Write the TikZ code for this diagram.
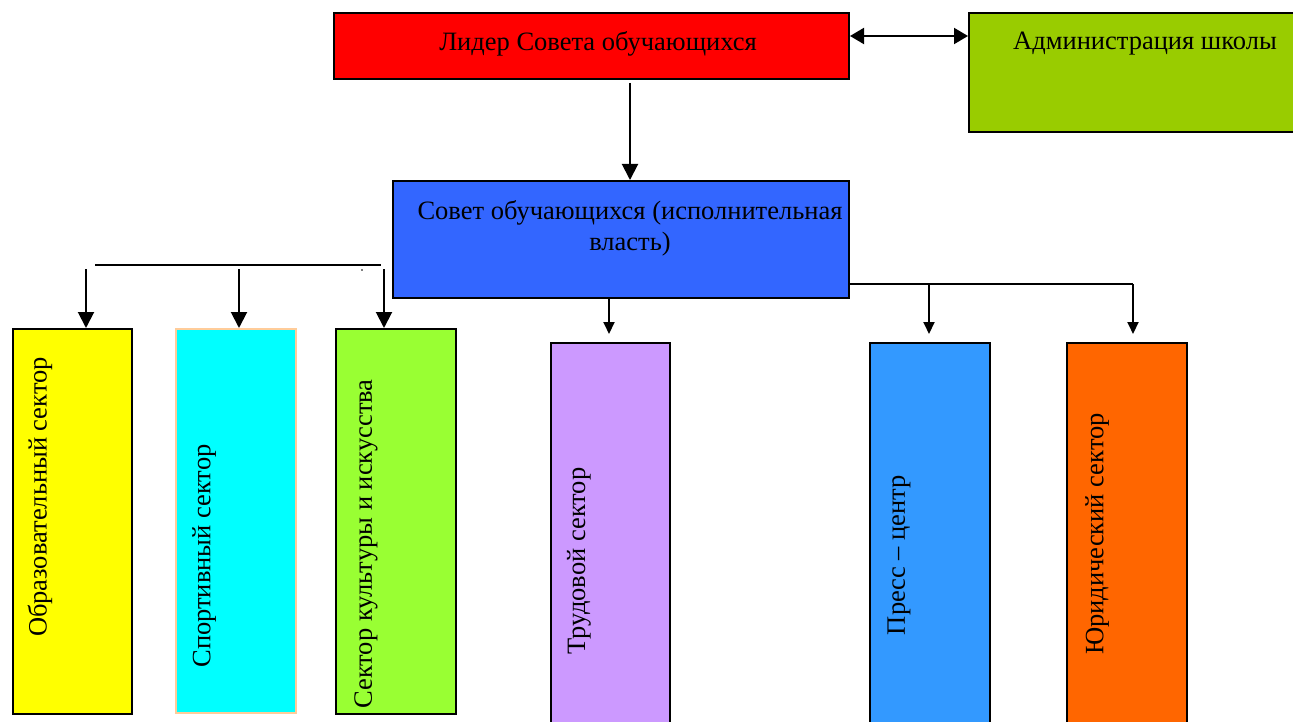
\documentclass[tikz,border=0pt]{standalone}
\usepackage{fontspec}
\setmainfont{Liberation Serif}
\usetikzlibrary{arrows.meta}
\definecolor{cred}{HTML}{FF0000}
\definecolor{cadmin}{HTML}{99CC00}
\definecolor{cblue}{HTML}{3366FF}
\definecolor{cyel}{HTML}{FFFF00}
\definecolor{ccyan}{HTML}{00FFFF}
\definecolor{cpeach}{HTML}{FFCC99}
\definecolor{clime}{HTML}{99FF33}
\definecolor{clilac}{HTML}{CC99FF}
\definecolor{csky}{HTML}{3399FF}
\definecolor{corange}{HTML}{FF6600}
\tikzset{
  box/.style={draw=black, line width=2pt, rectangle, inner sep=0pt, anchor=north west},
  txt/.style={font=\fontsize{26.5}{31}\selectfont, inner sep=0pt, text=black},
  vtxt/.style={txt, rotate=90},
  conn/.style={line width=2pt, draw=black},
  bigarr/.style={conn, -{Triangle[length=16pt,width=16pt]}},
  smallarr/.style={conn, -{Triangle[length=12pt,width=11pt]}},
}
\begin{document}
\begin{tikzpicture}[x=1pt,y=-1pt]
\useasboundingbox (0,0) rectangle (1293,722);
% top boxes
\node[box, fill=cred, minimum width=515pt, minimum height=66pt] (leader) at (333,12) {};
\node[txt] (leadert) at (598,44) {Лидер Совета обучающихся};
\node[box, fill=cadmin, minimum width=340pt, minimum height=119pt] (admin) at (968,12) {};
\node[txt] (admint) at (1145,44) {Администрация школы};
\node[box, fill=cblue, minimum width=456pt, minimum height=117pt] (council) at (392,180) {};
\node[txt, align=center] (councilt) at (630,228) {Совет обучающихся (исполнительная\\власть)};
% sector boxes
\node[box, fill=cyel, minimum width=119pt, minimum height=385pt] (s1) at (12,328) {};
\node[vtxt] (s1t) at (40,497) {Образовательный сектор};
\node[box, draw=cpeach, fill=ccyan, minimum width=120pt, minimum height=384pt] (s2) at (175,328) {};
\node[vtxt] (s2t) at (204,556) {Спортивный сектор};
\node[box, fill=clime, minimum width=120pt, minimum height=385pt] (s3) at (335,328) {};
\node[vtxt] (s3t) at (366,544) {Сектор культуры и искусства};
\node[box, fill=clilac, minimum width=119pt, minimum height=400pt] (s4) at (550,342) {};
\node[vtxt] (s4t) at (579,561) {Трудовой сектор};
\node[box, fill=csky, minimum width=120pt, minimum height=400pt] (s5) at (869,342) {};
\node[vtxt] (s5t) at (899,555) {Пресс – центр};
\node[box, fill=corange, minimum width=120pt, minimum height=400pt] (s6) at (1066,342) {};
\node[vtxt] (s6t) at (1097,534) {Юридический сектор};
% connectors
\draw[conn, {Triangle[length=14pt,width=16pt]}-{Triangle[length=14pt,width=16pt]}] (leader.east |- 0,36) -- (admin.west |- 0,36);
\coordinate (ldown) at (630,83);
\draw[bigarr] (ldown) -- (council.north -| ldown);
% left bracket
\coordinate (lb1) at (95,265);
\coordinate (lb2) at (381,265);
\draw[conn] (lb1) -- (lb2);
\coordinate (a1) at (86,269);
\coordinate (a2) at (239,269);
\coordinate (a3) at (384,269);
\draw[bigarr] (a1) -- (s1.north -| a1);
\draw[bigarr] (a2) -- (s2.north -| a2);
\draw[bigarr] (a3) -- (s3.north -| a3);
\fill (362,270) circle (0.8pt);
% right connectors
\coordinate (a4) at (609,297);
\draw[smallarr] (a4) -- (609,334);
\coordinate (rb) at (1133,284);
\draw[conn] (council.east |- rb) -- (rb);
\coordinate (a5) at (929,284);
\draw[smallarr] (a5) -- (929,334);
\draw[smallarr] (rb) -- (1133,334);
\end{tikzpicture}
\end{document}
